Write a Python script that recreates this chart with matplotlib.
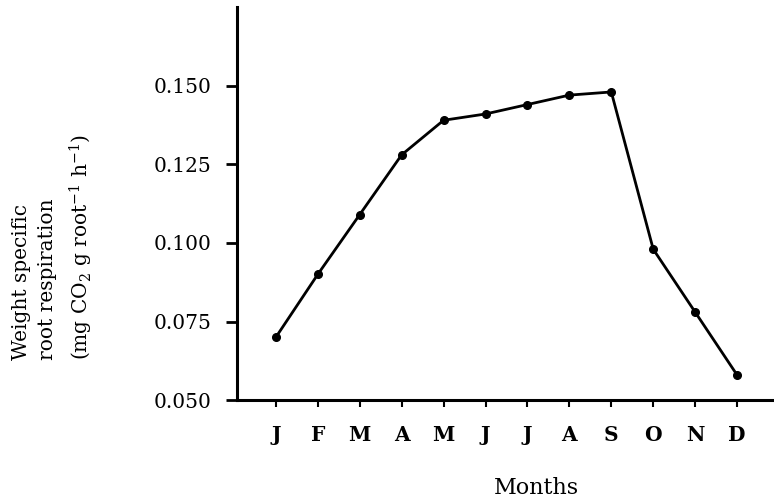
import matplotlib
matplotlib.use('Agg')
import matplotlib.pyplot as plt

plt.rcParams['font.family'] = 'DejaVu Serif'
plt.rcParams['mathtext.fontset'] = 'dejavuserif'

# data
months = ['J', 'F', 'M', 'A', 'M', 'J', 'J', 'A', 'S', 'O', 'N', 'D']
respiration = [0.070, 0.090, 0.109, 0.128, 0.139, 0.141, 0.144, 0.147, 0.148, 0.098, 0.078, 0.058]
y_ticks = [0.050, 0.075, 0.100, 0.125, 0.150]

fig = plt.figure(figsize=(7.74, 5.04), dpi=100)
ax = fig.add_axes([0.306, 0.206, 0.694, 0.78])

x = list(range(len(months)))
ax.plot(x, respiration, color='black', lw=2, marker='o', ms=5.5, mfc='black', mec='black')

ax.set_xlim(-0.93, 11.88)
ax.set_ylim(0.050, 0.175)
ax.set_xticks(x)
ax.set_xticklabels(months, fontsize=14.5, fontweight='bold')
ax.set_yticks(y_ticks)
ax.set_yticklabels(['%.3f' % v for v in y_ticks], fontsize=14.5)

ax.spines['top'].set_visible(False)
ax.spines['right'].set_visible(False)
ax.spines['left'].set_linewidth(2.2)
ax.spines['bottom'].set_linewidth(2.2)
ax.tick_params(axis='y', direction='out', length=8, width=2, pad=10)
ax.tick_params(axis='x', direction='out', length=5, width=1.5, pad=13)

fig.text(0.069, 0.51, 'Weight specific\nroot respiration\n(mg CO$_2$ g root$^{-1}$ h$^{-1}$)',
         rotation=90, ha='center', va='center', multialignment='left',
         fontsize=14.5, linespacing=1.5)
fig.text(0.693, 0.032, 'Months', ha='center', va='center', fontsize=16)

fig.savefig('out.png', dpi=100)
